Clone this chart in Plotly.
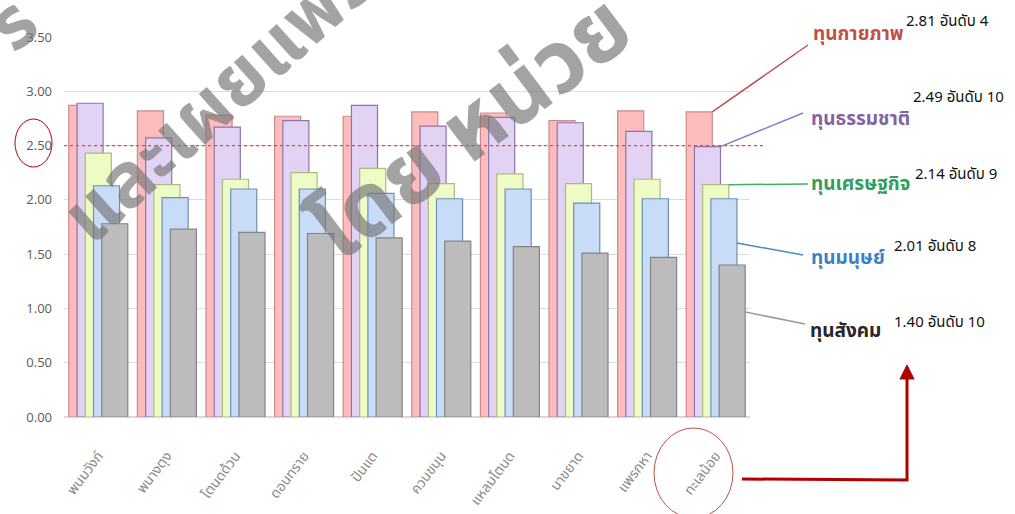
import plotly.graph_objects as go

categories = ["พนมวังก์", "พนางตุง", "โตนดด้วน", "ดอนทราย", "ปันแต",
              "ควนขนุน", "แหลมโตนด", "นาขยาด", "แพรกหา", "ทะเลน้อย"]
physical = [2.87, 2.82, 2.78, 2.77, 2.77, 2.81, 2.80, 2.73, 2.82, 2.81]
natural = [2.89, 2.57, 2.67, 2.73, 2.87, 2.68, 2.76, 2.71, 2.63, 2.49]
economic = [2.43, 2.14, 2.19, 2.25, 2.29, 2.15, 2.24, 2.15, 2.19, 2.14]
human = [2.13, 2.02, 2.10, 2.10, 2.06, 2.01, 2.10, 1.97, 2.01, 2.01]
social = [1.78, 1.73, 1.70, 1.69, 1.65, 1.62, 1.57, 1.51, 1.47, 1.40]
series_names = ["ทุนกายภาพ", "ทุนธรรมชาติ", "ทุนเศรษฐกิจ", "ทุนมนุษย์", "ทุนสังคม"]
ranks = [4, 10, 9, 8, 10]
y_ticks = [0.0, 0.5, 1.0, 1.5, 2.0, 2.5, 3.0, 3.5]
threshold = 2.50
watermark = ["ร", "และเผยแพร่", "โดย หน่วย"]

series_values = [physical, natural, economic, human, social]
fills = ["#ffbcbc", "#e2d3f4", "#eefbc4", "#c8dcf8", "#bcbcbc"]
edges = ["#c98a8a", "#8a76ad", "#a9bd80", "#6b8fb8", "#848484"]
label_colors = ["#c0504d", "#8064a2", "#2f9e5c", "#3b82c4", "#262626"]
line_colors = ["#c0504d", "#8e7cc3", "#3fae6a", "#4a8bc0", "#9a9a9a"]
offsets = [-0.43, -0.31, -0.19, -0.07, 0.05]
bar_w = 0.38

W, H = 1015, 514
L, R, T, B = 64, 750, 37, 417


def px(x):
    return (x - L) / (R - L)


def py(y):
    return (B - y) / (B - T)


thai = "Noto Sans Thai, Tahoma, Noto Sans, sans-serif"

fig = go.Figure()
for name, vals, f, e, off in zip(series_names, series_values, fills, edges, offsets):
    fig.add_trace(go.Bar(x=categories, y=vals, name=name, offset=off, width=bar_w,
                         marker=dict(color=f, line=dict(color=e, width=1.2))))

ymax = y_ticks[-1]
n = len(categories)
shapes = []
annotations = []

# threshold dashed line
shapes.append(dict(type="line", xref="paper", yref="y", x0=0, x1=px(766),
                   y0=threshold, y1=threshold,
                   line=dict(color="#e04848", width=1.2, dash="3px,3px")))

# leader lines
label_pos = [(808, 45), (803, 113), (808, 184), (803, 255), (805, 324)]
start_y_px = [None, None, None, 243, 312]
for i, vals in enumerate(series_values):
    xi = (n - 1) + offsets[i] + bar_w
    x0 = (xi + 0.5) / n
    y0 = vals[-1] / ymax if start_y_px[i] is None else py(start_y_px[i])
    ex, ey = label_pos[i]
    shapes.append(dict(type="line", xref="paper", yref="paper", x0=x0, y0=y0,
                       x1=px(ex), y1=py(ey), line=dict(color=line_colors[i], width=1.5)))

name_pos = [(811, 35), (809, 119), (809, 184), (809, 258), (808, 331)]
val_pos = [(904, 21), (911, 97), (913, 174), (892, 246), (892, 322)]
for i, vals in enumerate(series_values):
    nx, ny = name_pos[i]
    annotations.append(dict(xref="paper", yref="paper", x=px(nx), y=py(ny),
                            xanchor="left", yanchor="middle", showarrow=False,
                            text="<b>%s</b>" % series_names[i],
                            font=dict(family=thai, size=19, color=label_colors[i])))
    vx, vy = val_pos[i]
    annotations.append(dict(xref="paper", yref="paper", x=px(vx), y=py(vy),
                            xanchor="left", yanchor="middle", showarrow=False,
                            text="%.2f อันดับ %d" % (vals[-1], ranks[i]),
                            font=dict(family=thai, size=15, color="#111111")))

# circles
shapes.append(dict(type="circle", xref="paper", yref="paper",
                   x0=px(15), x1=px(52), y0=py(167), y1=py(119),
                   line=dict(color="#c00000", width=1)))
shapes.append(dict(type="circle", xref="paper", yref="paper",
                   x0=px(654), x1=px(733), y0=py(518), y1=py(428),
                   line=dict(color="#c0504d", width=1)))

# arrow
shapes.append(dict(type="path", xref="paper", yref="paper",
                   path="M %f %f L %f %f L %f %f" % (px(742), py(479), px(907), py(480), px(907), py(377)),
                   line=dict(color="#b00000", width=3)))
shapes.append(dict(type="path", xref="paper", yref="paper",
                   path="M %f %f L %f %f L %f %f Z" % (px(900), py(379), px(914), py(379), px(907), py(365)),
                   fillcolor="#b00000", line=dict(color="#b00000", width=1)))

# watermark
wm_pos = [(14, 26, -40, 72), (220, 100, -42, 76), (472, 130, -37, 88)]
for t, (wx, wy, ang, sz) in zip(watermark, wm_pos):
    annotations.append(dict(xref="paper", yref="paper", x=px(wx), y=py(wy),
                            xanchor="center", yanchor="middle", showarrow=False,
                            text="<b>%s</b>" % t, textangle=ang,
                            font=dict(family=thai, size=sz, color="rgba(120,120,120,0.68)")))

fig.update_layout(
    width=W, height=H,
    margin=dict(l=L, r=W - R, t=T, b=H - B, autoexpand=False),
    paper_bgcolor="white", plot_bgcolor="white",
    barmode="overlay", showlegend=False,
    shapes=shapes, annotations=annotations,
    xaxis=dict(tickangle=-53, tickfont=dict(family=thai, size=14, color="#8a8a8a"),
               showgrid=False, showline=True, linecolor="#d9d9d9", ticks="",
               ticklabelstandoff=24, automargin=False),
    yaxis=dict(range=[0, ymax], tickvals=y_ticks, tickformat=".2f",
               tickfont=dict(family="Open Sans", size=13, color="#5a5a5a"),
               gridcolor="#dcdcdc", zeroline=True, zerolinecolor="#d9d9d9",
               ticklabelstandoff=11, automargin=False),
)

fig.write_html("out.html", config={"displayModeBar": False},
               post_script="document.body.style.margin='0';")
